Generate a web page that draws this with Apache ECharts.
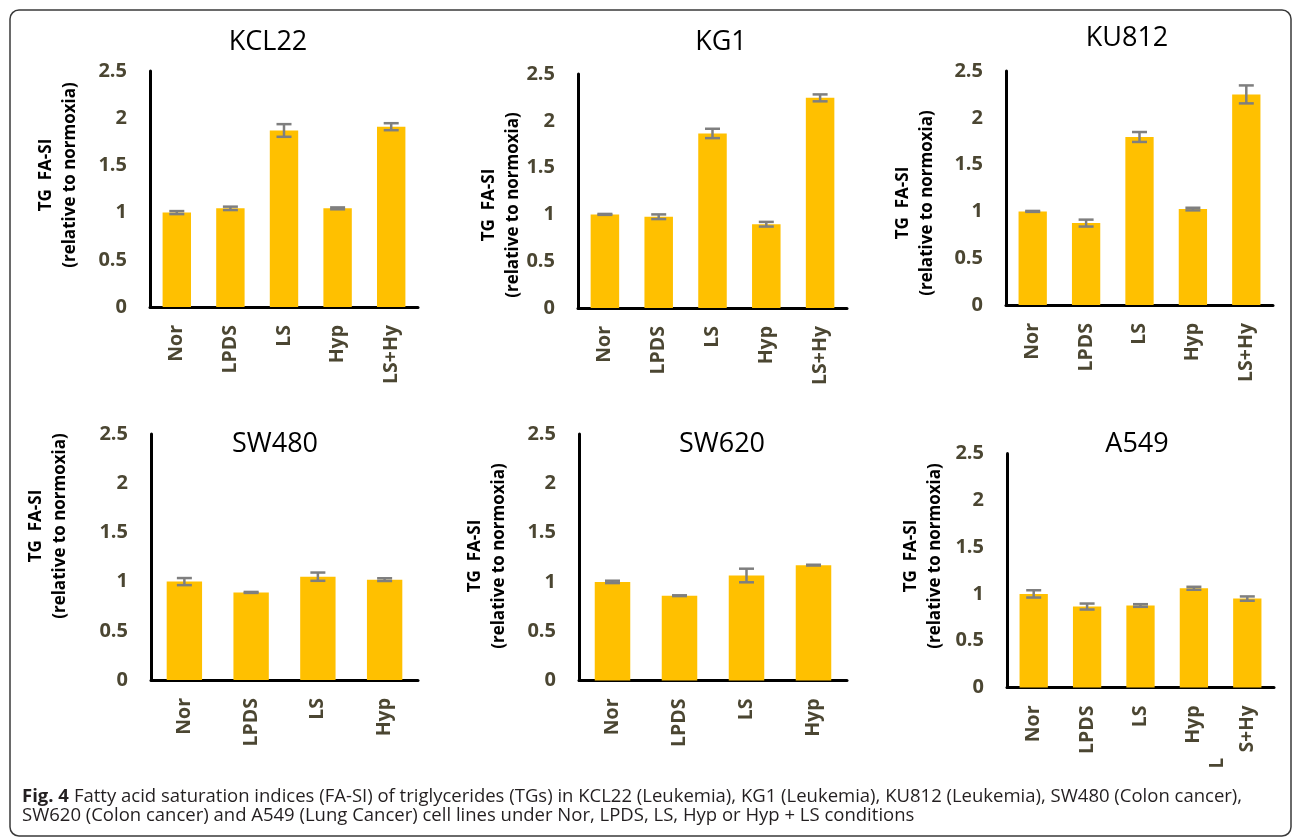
<!DOCTYPE html>
<html>
<head>
<meta charset="utf-8">
<script src="https://cdn.jsdelivr.net/npm/echarts@6/dist/echarts.min.js"></script>
<style>
  html, body { margin: 0; padding: 0; background: #ffffff; }
  #chart { width: 1293px; height: 837px; }
</style>
</head>
<body>
<div id="chart"></div>
<script>
// Conditions (x categories)
const conditions5 = ['Nor', 'LPDS', 'LS', 'Hyp', 'LS+Hy'];
const conditions4 = ['Nor', 'LPDS', 'LS', 'Hyp'];

// Cell lines (panel titles)
const cellLines = ['KCL22', 'KG1', 'KU812', 'SW480', 'SW620', 'A549'];

// TG FA-SI relative to normoxia: means and error (±) per condition
const kcl22Mean = [1.00, 1.045, 1.87, 1.045, 1.91];
const kcl22Err  = [0.016, 0.018, 0.067, 0.010, 0.037];
const kg1Mean   = [1.00, 0.975, 1.865, 0.895, 2.245];
const kg1Err    = [0.005, 0.025, 0.050, 0.025, 0.037];
const ku812Mean = [1.00, 0.875, 1.795, 1.025, 2.25];
const ku812Err  = [0.005, 0.037, 0.053, 0.014, 0.096];
const sw480Mean = [1.00, 0.89, 1.05, 1.02];
const sw480Err  = [0.036, 0.005, 0.042, 0.014];
const sw620Mean = [1.00, 0.86, 1.065, 1.17];
const sw620Err  = [0.012, 0.004, 0.069, 0.004];
const a549Mean  = [1.00, 0.865, 0.876, 1.06, 0.95];
const a549Err   = [0.039, 0.032, 0.014, 0.016, 0.023];

// Y axis ticks
const yTicks = { min: 0, max: 2.5, interval: 0.5 };

const yAxisName = 'TG  FA-SI\n(relative to normoxia)';
const captionBold = 'Fig. 4';
const captionLine1 = 'Fatty acid saturation indices (FA-SI) of triglycerides (TGs) in KCL22 (Leukemia), KG1 (Leukemia), KU812 (Leukemia), SW480 (Colon cancer),';
const captionLine2 = 'SW620 (Colon cancer) and A549 (Lung Cancer) cell lines under Nor, LPDS, LS, Hyp or Hyp + LS conditions';

const panelData = [
  { title: cellLines[0], cats: conditions5, mean: kcl22Mean, err: kcl22Err },
  { title: cellLines[1], cats: conditions5, mean: kg1Mean,   err: kg1Err },
  { title: cellLines[2], cats: conditions5, mean: ku812Mean, err: ku812Err },
  { title: cellLines[3], cats: conditions4, mean: sw480Mean, err: sw480Err },
  { title: cellLines[4], cats: conditions4, mean: sw620Mean, err: sw620Err },
  { title: cellLines[5], cats: conditions5, mean: a549Mean,  err: a549Err, splitLast: true }
];

// Layout of each panel (pixels): plot rectangle, title centre, y-name centre
const panelLayout = [
  { grid: { left: 150, top: 71,  width: 268, height: 236 },   title: [268, 42],   yName: [58, 175] },
  { grid: { left: 578, top: 74,  width: 269, height: 234 },   title: [721, 42],   yName: [501, 205] },
  { grid: { left: 1006, top: 71, width: 267, height: 234 },   title: [1127, 38],  yName: [915, 203] },
  { grid: { left: 151, top: 434, width: 267, height: 246 },   title: [275, 444],  yName: [48, 526] },
  { grid: { left: 579, top: 434, width: 268, height: 246.5 }, title: [722, 444],  yName: [487, 556] },
  { grid: { left: 1007, top: 453.5, width: 267, height: 234 }, title: [1137, 444], yName: [923, 556] }
];

const FONT = '"Open Sans", "Noto Sans", sans-serif';
const BAR_COLOR = '#FFC000';
const ERR_COLOR = '#7f7f7f';
const TICK_COLOR = '#4b4632';

function renderErrorBar(params, api) {
  const cat = api.value(0);
  const mean = api.value(1);
  const e = api.value(2);
  const top = api.coord([cat, mean + e]);
  const bot = api.coord([cat, mean - e]);
  const half = 7.5;
  const style = { stroke: ERR_COLOR, lineWidth: 2.5 };
  return {
    type: 'group',
    children: [
      { type: 'line', shape: { x1: top[0], y1: top[1], x2: bot[0], y2: bot[1] }, style },
      { type: 'line', shape: { x1: top[0] - half, y1: top[1], x2: top[0] + half, y2: top[1] }, style },
      { type: 'line', shape: { x1: bot[0] - half, y1: bot[1], x2: bot[0] + half, y2: bot[1] }, style }
    ]
  };
}

const grids = [], xAxes = [], yAxes = [], series = [], titles = [], graphics = [];

panelData.forEach((p, i) => {
  const lay = panelLayout[i];
  grids.push(Object.assign({ containLabel: false }, lay.grid));

  // Two-part label used where the last category wraps onto its own line
  const labelRich = {
    l: { fontFamily: FONT, fontSize: 19, fontWeight: 'bold', color: TICK_COLOR, width: 63, align: 'left', lineHeight: 30 },
    r: { fontFamily: FONT, fontSize: 19, fontWeight: 'bold', color: TICK_COLOR, width: 63, align: 'right', lineHeight: 30 }
  };

  xAxes.push({
    type: 'category',
    gridIndex: i,
    data: p.cats,
    axisLine: { show: true, lineStyle: { color: '#000000', width: 3 } },
    axisTick: { show: false },
    splitLine: { show: false },
    axisLabel: {
      interval: 0,
      rotate: 90,
      margin: 18,
      fontFamily: FONT,
      fontSize: 19.5,
      fontWeight: 'bold',
      color: TICK_COLOR,
      rich: labelRich,
      formatter: (v) => {
        if (p.splitLast && v === 'LS+Hy') return '{l|L}\n{r|S+Hy}\n{r| }';
        return v;
      }
    }
  });

  yAxes.push({
    type: 'value',
    gridIndex: i,
    min: yTicks.min,
    max: yTicks.max,
    interval: yTicks.interval,
    axisLine: { show: true, lineStyle: { color: '#000000', width: 3 } },
    axisTick: { show: false },
    splitLine: { show: false },
    axisLabel: {
      margin: 23,
      fontFamily: FONT,
      fontSize: 20,
      fontWeight: 'bold',
      color: TICK_COLOR
    }
  });

  series.push({
    type: 'bar',
    xAxisIndex: i,
    yAxisIndex: i,
    data: p.mean,
    barWidth: '53%',
    itemStyle: { color: BAR_COLOR },
    silent: true
  });

  series.push({
    type: 'custom',
    xAxisIndex: i,
    yAxisIndex: i,
    data: p.mean.map((m, k) => [k, m, p.err[k]]),
    encode: { x: 0, y: 1 },
    renderItem: renderErrorBar,
    silent: true,
    z: 5
  });

  titles.push({
    text: p.title,
    left: lay.title[0],
    top: lay.title[1],
    textAlign: 'center',
    textVerticalAlign: 'middle',
    padding: 0,
    textStyle: { fontFamily: FONT, fontSize: 27, fontWeight: 'normal', color: '#000000' }
  });

  graphics.push({
    type: 'text',
    x: lay.yName[0],
    y: lay.yName[1],
    rotation: Math.PI / 2,
    style: {
      text: yAxisName,
      fontFamily: FONT,
      fontSize: 17,
      fontWeight: 'bold',
      lineHeight: 24,
      fill: '#000000',
      align: 'center',
      verticalAlign: 'middle'
    }
  });
});

// Caption below the panels
titles.push({
  text: '{b|' + captionBold + '} {n|' + captionLine1 + '}\n{n|' + captionLine2 + '}',
  left: 22,
  top: 787,
  padding: 0,
  textStyle: {
    rich: {
      b: { fontFamily: FONT, fontSize: 18.5, fontWeight: 'bold', color: '#231f20', lineHeight: 19 },
      n: { fontFamily: FONT, fontSize: 18.5, fontWeight: 'normal', color: '#231f20', lineHeight: 19 }
    }
  }
});

// Rounded frame around the figure
graphics.unshift({
  type: 'rect',
  shape: { x: 10, y: 10, width: 1281, height: 826, r: 9 },
  style: { fill: 'none', stroke: '#3a3a3a', lineWidth: 1.5 },
  silent: true
});

const chart = echarts.init(document.getElementById('chart'), null, { renderer: 'canvas' });
chart.setOption({
  animation: false,
  backgroundColor: '#ffffff',
  title: titles,
  grid: grids,
  xAxis: xAxes,
  yAxis: yAxes,
  series: series,
  graphic: { elements: graphics }
});
</script>
</body>
</html>
